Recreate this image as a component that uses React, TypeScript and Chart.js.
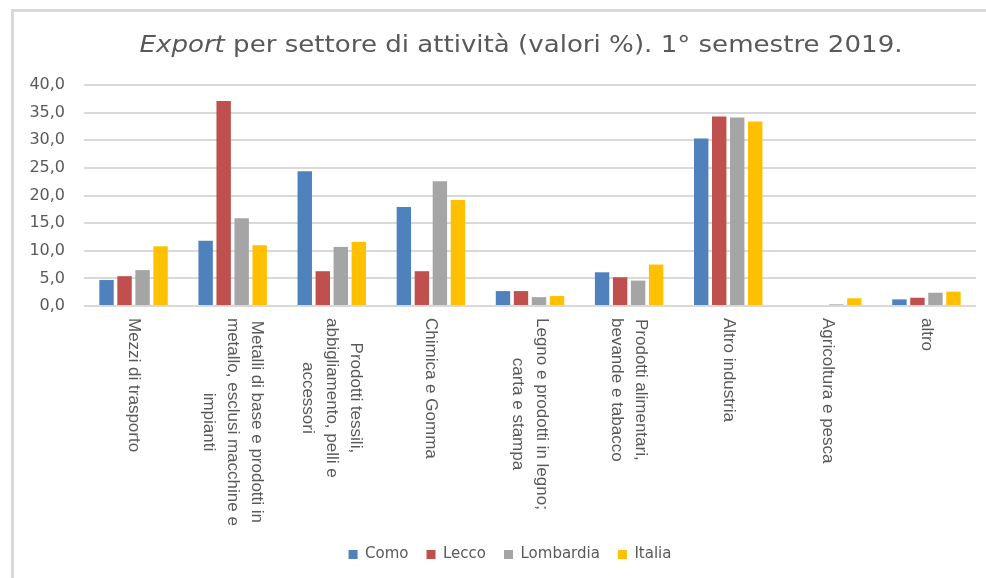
import React, { useEffect, useRef } from "react";
import { Chart, registerables } from "chart.js";

Chart.register(...registerables);

const categories: string[][] = [
  ["Mezzi di trasporto"],
  ["Metalli di base e prodotti in", "metallo, esclusi macchine e", "impianti"],
  ["Prodotti tessili,", "abbigliamento, pelli e", "accessori"],
  ["Chimica e Gomma"],
  ["Legno e prodotti in legno;", "carta e stampa"],
  ["Prodotti alimentari,", "bevande e tabacco"],
  ["Altro industria"],
  ["Agricoltura e pesca"],
  ["altro"],
];

const seriesNames = ["Como", "Lecco", "Lombardia", "Italia"];
const como = [4.7, 11.8, 24.4, 17.9, 2.7, 6.1, 30.3, 0, 1.2];
const lecco = [5.4, 37.1, 6.3, 6.3, 2.7, 5.2, 34.3, 0, 1.5];
const lombardia = [6.5, 15.9, 10.7, 22.6, 1.6, 4.6, 34.1, 0.3, 2.4];
const italia = [10.8, 11.0, 11.6, 19.2, 1.8, 7.5, 33.4, 1.4, 2.6];
const colors = ["#4F81BD", "#C0504D", "#A5A5A5", "#FFC000"];

const titleItalic = "Export";
const titleRest = " per settore di attività (valori %). 1° semestre 2019.";

const yMin = 0;
const yMax = 40;
const yStep = 5;

const TEXT = "#595959";

const framePlugin = {
  id: "frame",
  afterLayout(chart: any) {
    const lg = chart.legend;
    if (lg) {
      lg.left = 44;
      lg.right = 976;
    }
  },
  beforeDraw(chart: any) {
    const ctx = chart.ctx;
    ctx.save();
    ctx.fillStyle = "#D9D9D9";
    ctx.fillRect(11, 9, chart.width - 11, 3);
    ctx.fillRect(11, 9, 3, chart.height - 9);
    ctx.restore();
  },
  afterDraw(chart: any) {
    const ctx = chart.ctx;
    // title
    ctx.save();
    ctx.fillStyle = TEXT;
    ctx.textBaseline = "middle";
    ctx.textAlign = "left";
    const fItal = "italic 23px 'DejaVu Sans'";
    const fReg = "23px 'DejaVu Sans'";
    ctx.font = fItal;
    const w1 = ctx.measureText(titleItalic).width;
    ctx.font = fReg;
    const w2 = ctx.measureText(titleRest).width;
    const target = 763;
    const sx = target / (w1 + w2);
    const cx = 521;
    ctx.translate(cx - target / 2, 46);
    ctx.scale(sx, 1);
    ctx.font = fItal;
    ctx.fillText(titleItalic, 0, 0);
    ctx.font = fReg;
    ctx.fillText(titleRest, w1, 0);
    ctx.restore();

    // rotated category labels
    const xs = chart.scales.x;
    ctx.save();
    ctx.fillStyle = TEXT;
    ctx.font = "17px 'Liberation Sans'";
    ctx.textBaseline = "middle";
    ctx.textAlign = "center";
    const lineGap = 24;
    const topY = 318;
    categories.forEach((lines, i) => {
      const x = xs.getPixelForTick(i);
      const widths = lines.map((l) => ctx.measureText(l).width);
      const bw = Math.max(...widths);
      ctx.save();
      ctx.translate(x, topY);
      ctx.rotate(Math.PI / 2);
      const n = lines.length;
      lines.forEach((l, j) => {
        ctx.fillText(l, bw / 2, (j - (n - 1) / 2) * lineGap);
      });
      ctx.restore();
    });
    ctx.restore();
  },
};

export default function App() {
  const ref = useRef<HTMLCanvasElement | null>(null);

  useEffect(() => {
    if (!ref.current) return;
    const seriesValues = [como, lecco, lombardia, italia];
    const chart = new Chart(ref.current, {
      type: "bar",
      data: {
        labels: categories.map((c) => c.join(" ")),
        datasets: seriesNames.map((name, i) => ({
          label: name,
          data: seriesValues[i],
          backgroundColor: colors[i],
          borderWidth: 0,
          barPercentage: 0.8,
          categoryPercentage: 0.727,
        })),
      },
      options: {
        responsive: false,
        animation: false,
        layout: { padding: { top: 85, left: 0, right: 10, bottom: 6 } },
        plugins: {
          title: { display: false },
          tooltip: { enabled: false },
          legend: {
            position: "bottom",
            labels: {
              boxWidth: 9,
              boxHeight: 9,
              padding: 18,
              color: TEXT,
              font: { family: "'DejaVu Sans'", size: 15 },
            },
          },
        },
        scales: {
          x: {
            grid: { display: false },
            border: { display: false },
            ticks: { display: false },
            afterFit(scale: any) {
              scale.height = 223;
            },
          },
          y: {
            min: yMin,
            max: yMax,
            grid: { color: "#D9D9D9", lineWidth: 2, drawTicks: false },
            border: { display: false },
            ticks: {
              stepSize: yStep,
              padding: 19,
              color: TEXT,
              font: { family: "'DejaVu Sans'", size: 16 },
              callback: (v: any) => Number(v).toFixed(1).replace(".", ","),
            },
            afterFit(scale: any) {
              scale.width = 84;
            },
          },
        },
      },
      plugins: [framePlugin],
    });
    return () => chart.destroy();
  }, []);

  return (
    <div style={{ position: "absolute", left: 0, top: 0, width: 986, height: 578, background: "#fff" }}>
      <canvas ref={ref} width={986} height={578} style={{ display: "block" }} />
    </div>
  );
}
